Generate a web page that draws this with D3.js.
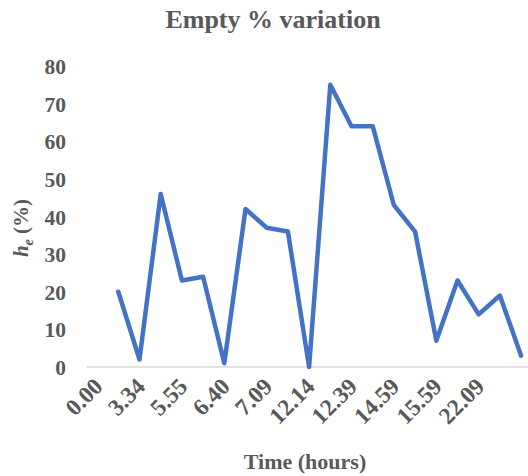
<!DOCTYPE html>
<html>
<head>
<meta charset="utf-8">
<script src="https://cdn.jsdelivr.net/npm/d3@7"></script>
<style>
  body { margin: 0; background: #fff; }
  text { font-family: "Liberation Serif", "Times New Roman", serif; font-weight: bold; fill: #595959; }
</style>
</head>
<body>
<script>
// 21 categories on the axis, labels on every second one; first category has no value
const tickLabels = ["0.00", "3.34", "5.55", "6.40", "7.09", "12.14", "12.39", "14.59", "15.59", "22.09"];
const emptyValues = [20, 2, 46, 23, 24, 1, 42, 37, 36, 0, 75, 64, 64, 43, 36, 7, 23, 14, 19, 3];
const yTicks = [0, 10, 20, 30, 40, 50, 60, 70, 80];

const width = 528;
const height = 476;
const nCats = emptyValues.length + 1;

const svg = d3.select("body").append("svg")
  .attr("width", width)
  .attr("height", height);

const x = d3.scaleBand()
  .domain(d3.range(nCats))
  .range([86.5, 531.7]);

const y = d3.scaleLinear()
  .domain([0, 80])
  .range([367, 66]);

const cx = (i) => x(i) + x.bandwidth() / 2;

// title
svg.append("text")
  .attr("x", 273)
  .attr("y", 28)
  .attr("text-anchor", "middle")
  .style("font-size", "26px")
  .text("Empty % variation");

// baseline
svg.append("line")
  .attr("x1", 86.5)
  .attr("x2", width)
  .attr("y1", y(0))
  .attr("y2", y(0))
  .attr("stroke", "#d9d9d9")
  .attr("stroke-width", 1.3);

// y axis labels (no axis line)
const yAxis = d3.axisLeft(y).tickValues(yTicks).tickSize(0).tickPadding(0);
const yg = svg.append("g")
  .attr("transform", "translate(66,0)")
  .call(yAxis);
yg.select(".domain").remove();
yg.selectAll("text")
  .attr("dy", "0.35em")
  .style("font-size", "21.5px")
  .style("font-family", "'Liberation Serif', serif")
  .attr("fill", "#595959");

// x tick labels, rotated
svg.append("g")
  .selectAll("text")
  .data(tickLabels)
  .enter()
  .append("text")
  .attr("text-anchor", "end")
  .style("font-size", "23.5px")
  .attr("transform", (d, i) => "translate(" + (cx(i * 2) + 7) + ",388) rotate(-45)")
  .text((d) => d);

// line
const line = d3.line()
  .x((d, i) => cx(i + 1))
  .y((d) => y(d));

svg.append("path")
  .datum(emptyValues)
  .attr("fill", "none")
  .attr("stroke", "#4472c4")
  .attr("stroke-width", 4.5)
  .attr("stroke-linejoin", "round")
  .attr("stroke-linecap", "round")
  .attr("d", line);

// axis titles
svg.append("text")
  .attr("x", 305)
  .attr("y", 469)
  .attr("text-anchor", "middle")
  .style("font-size", "22px")
  .text("Time (hours)");

const yl = svg.append("text")
  .attr("transform", "translate(28,228) rotate(-90)")
  .attr("text-anchor", "middle")
  .style("font-size", "21px");
yl.append("tspan").style("font-style", "italic").text("h");
yl.append("tspan").style("font-style", "italic").style("font-size", "14px").attr("dy", 5).text("e");
yl.append("tspan").attr("dy", -5).text(" (%)");
</script>
</body>
</html>
